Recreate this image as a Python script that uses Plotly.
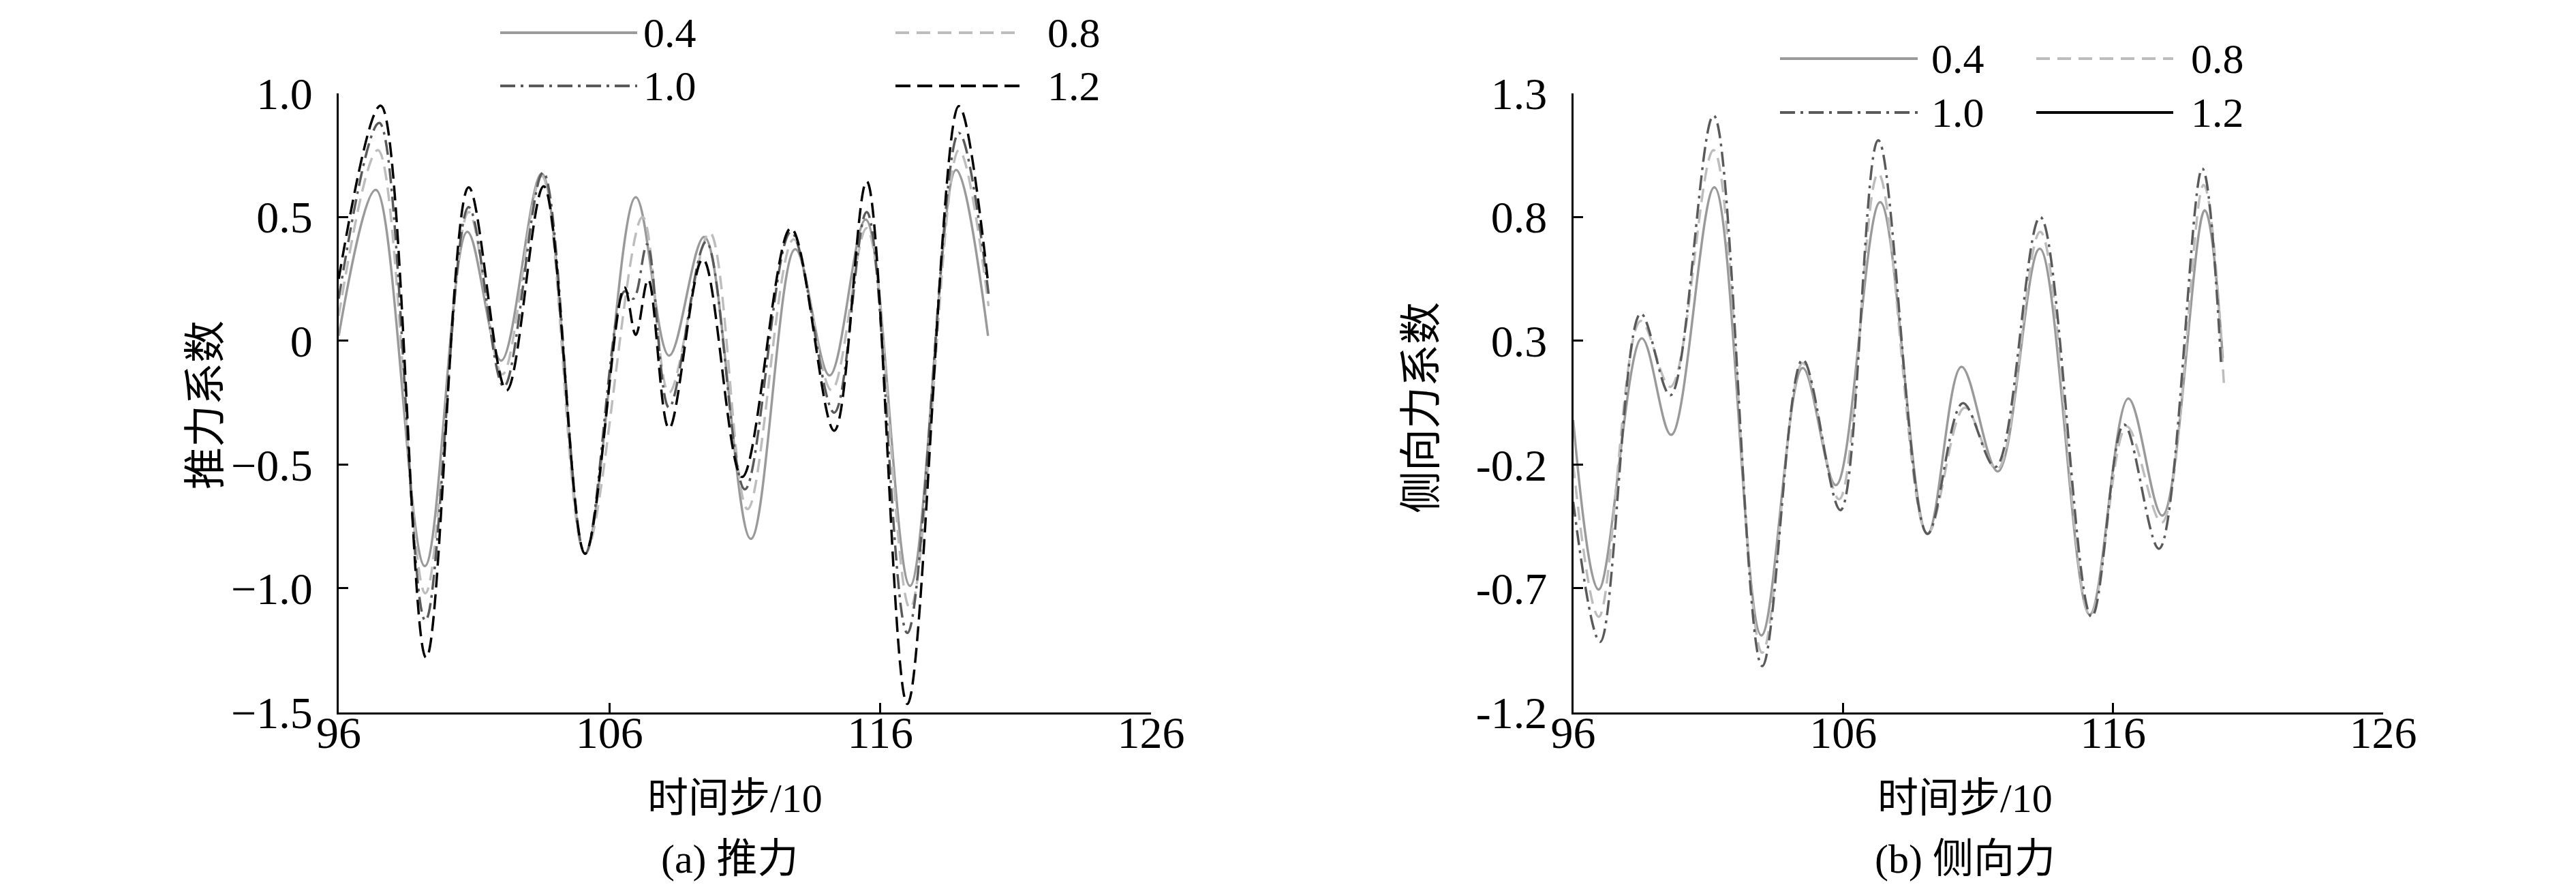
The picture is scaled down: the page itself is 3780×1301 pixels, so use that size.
import plotly.graph_objects as go
from plotly.subplots import make_subplots

W, H = 3780, 1301

labels = ["0.4", "0.8", "1.0", "1.2"]

# (a) 推力 -- thrust coefficient vs time step / 10
thrust_t_04 = [96.0, 97.37, 99.18, 100.75, 102.0, 103.5, 105.1, 106.97, 108.2, 109.5,
               111.22, 112.86, 114.13, 115.46, 117.1, 118.8, 119.98]
thrust_v_04 = [0.02, 0.61, -0.91, 0.44, -0.08, 0.675, -0.86, 0.58, -0.06, 0.42,
               -0.80, 0.37, -0.14, 0.49, -0.99, 0.69, 0.02]

thrust_t_08 = [96.0, 97.45, 99.2, 100.8, 102.05, 103.5, 105.1, 107.22, 108.2, 109.7,
               111.1, 112.8, 114.2, 115.5, 117.1, 118.9, 120.0]
thrust_v_08 = [0.10, 0.77, -1.02, 0.52, -0.135, 0.666, -0.86, 0.50, -0.21, 0.437,
               -0.68, 0.41, -0.20, 0.455, -1.08, 0.77, 0.14]

thrust_t_10 = [96.0, 97.5, 99.2, 100.8, 102.1, 103.55, 105.1, 106.55, 106.89, 107.39,
               108.2, 109.57, 111.0, 112.7, 114.3, 115.5, 117.0, 118.9, 120.0]
thrust_v_10 = [0.17, 0.88, -1.13, 0.54, -0.185, 0.68, -0.86, 0.20, 0.17, 0.39,
               -0.27, 0.40, -0.60, 0.44, -0.29, 0.52, -1.18, 0.84, 0.19]

thrust_t_12 = [96.0, 97.55, 99.23, 100.8, 102.2, 103.57, 105.1, 106.55, 106.97, 107.43,
               108.2, 109.45, 110.9, 112.7, 114.3, 115.5, 117.0, 118.9, 119.98]
thrust_v_12 = [0.25, 0.95, -1.28, 0.62, -0.20, 0.624, -0.86, 0.216, 0.024, 0.248,
               -0.354, 0.33, -0.55, 0.455, -0.363, 0.644, -1.467, 0.948, 0.236]

# (b) 侧向力 -- lateral force coefficient
side_t_04 = [96.0, 96.94, 98.54, 99.63, 101.23, 102.97, 104.5, 105.73, 107.37, 109.12,
             110.38, 111.73, 113.28, 115.13, 116.56, 117.82, 119.39, 120.06]
side_v_04 = [-0.02, -0.705, 0.31, -0.08, 0.92, -0.89, 0.19, -0.283, 0.86, -0.48,
             0.195, -0.228, 0.672, -0.806, 0.067, -0.406, 0.827, 0.23]

side_t_08 = [96.0, 96.95, 98.5, 99.6, 101.2, 103.0, 104.5, 105.85, 107.3, 109.12,
             110.5, 111.7, 113.3, 115.15, 116.5, 117.8, 119.35, 120.1]
side_v_08 = [-0.20, -0.815, 0.38, 0.114, 1.07, -0.96, 0.21, -0.34, 0.976, -0.48,
             0.03, -0.22, 0.74, -0.81, -0.046, -0.435, 0.93, 0.13]

side_t_10 = [96.0, 97.0, 98.5, 99.6, 101.2, 103.0, 104.5, 105.9, 107.3, 109.12,
             110.43, 111.64, 113.3, 115.2, 116.4, 117.7, 119.3, 120.0]
side_v_10 = [-0.35, -0.916, 0.41, 0.08, 1.21, -1.014, 0.224, -0.384, 1.11, -0.48,
             0.048, -0.21, 0.80, -0.815, -0.038, -0.54, 0.996, 0.20]

x_ticks = [96, 106, 116, 126]
thrust_ticks = [-1.5, -1.0, -0.5, 0, 0.5, 1.0]
thrust_ticktext = ["\u22121.5", "\u22121.0", "\u22120.5", "0", "0.5", "1.0"]
side_ticks = [-1.2, -0.7, -0.2, 0.3, 0.8, 1.3]
side_ticktext = ["-1.2", "-0.7", "-0.2", "0.3", "0.8", "1.3"]

SERIF = "Liberation Serif, Times New Roman, Noto Sans CJK SC"
CJK = "Liberation Serif, Noto Sans CJK SC"

style_a = {
    "0.4": dict(color="#9a9a9a", dash="solid"),
    "0.8": dict(color="#bdbdbd", dash="20px,11px"),
    "1.0": dict(color="#5a5a5a", dash="22px,8px,4px,8px"),
    "1.2": dict(color="#000000", dash="22px,10px"),
}
style_b = dict(style_a)
style_b["1.2"] = dict(color="#000000", dash="solid")

fig = make_subplots(rows=1, cols=2)

thrust = [(thrust_t_04, thrust_v_04), (thrust_t_08, thrust_v_08),
          (thrust_t_10, thrust_v_10), (thrust_t_12, thrust_v_12)]
side = [(side_t_04, side_v_04), (side_t_08, side_v_08), (side_t_10, side_v_10)]

for lab, (t, v) in zip(labels, thrust):
    fig.add_trace(go.Scatter(x=t, y=v, mode="lines", name=lab, line_shape="spline",
                             line=dict(width=3.5, **style_a[lab])), row=1, col=1)
for lab, (t, v) in zip(labels, side):
    fig.add_trace(go.Scatter(x=t, y=v, mode="lines", name=lab, line_shape="spline",
                             line=dict(width=3.5, **style_b[lab])), row=1, col=2)

axis_common = dict(showline=True, linecolor="black", linewidth=3, showgrid=False,
                   zeroline=False, ticks="inside", ticklen=14, tickwidth=3, automargin=False,
                   tickcolor="black", tickfont=dict(family=SERIF, size=66, color="black"))

fig.update_xaxes(range=[96, 126], tickvals=x_ticks, ticklabelstandoff=-30, **axis_common)
fig.update_xaxes(domain=[489 / W, 1681 / W], row=1, col=1)
fig.update_xaxes(domain=[2300.5 / W, 3489 / W], row=1, col=2)
ydom = [1 - 1036.5 / H, 1 - 128.8 / H]
fig.update_yaxes(domain=ydom, range=[-1.5, 1.0], tickvals=thrust_ticks,
                 ticktext=thrust_ticktext, ticklabelstandoff=22, row=1, col=1, **axis_common)
fig.update_yaxes(domain=ydom, range=[-1.2, 1.3], tickvals=side_ticks,
                 ticktext=side_ticktext, ticklabelstandoff=22, row=1, col=2, **axis_common)


def px(x, y):
    return x / W, 1 - y / H


annotations = []


def text(x, y, s, size, anchor="center", angle=0):
    xp, yp = px(x, y)
    annotations.append(dict(x=xp, y=yp, xref="paper", yref="paper", text=s, showarrow=False,
                            xanchor=anchor, yanchor="middle", textangle=angle,
                            font=dict(family=CJK, size=size, color="black")))


# axis titles and captions
text(1070, 1163, "时间步/10", 60)
text(1063, 1252, "(a) 推力", 60)
text(294, 586, "推力系数", 62, angle=-90)
text(2875, 1163, "时间步/10", 60)
text(2875, 1252, "(b) 侧向力", 60)
text(2078, 590, "侧向力系数", 62, angle=-90)

# hand-drawn legends (long line samples like the original)
shapes = []
legend_a = [(726, 927, 40, 934), (1306, 1491, 40, 1527), (726, 927, 118, 934), (1306, 1491, 118, 1527)]
legend_b = [(2604, 2806, 78, 2824), (2980, 3181, 78, 3205), (2604, 2806, 157, 2824), (2980, 3181, 157, 3205)]
for styles, pos in ((style_a, legend_a), (style_b, legend_b)):
    for lab, (x0, x1, y, xt) in zip(labels, pos):
        a0, b0 = px(x0, y)
        a1, _ = px(x1, y)
        shapes.append(dict(type="line", xref="paper", yref="paper", x0=a0, x1=a1, y0=b0, y1=b0,
                           line=dict(width=4, **styles[lab])))
        text(xt, y, lab, 62, anchor="left")

fig.update_layout(width=W, height=H, margin=dict(l=0, r=0, t=0, b=0, autoexpand=False),
                  paper_bgcolor="white", plot_bgcolor="white", showlegend=False,
                  annotations=annotations, shapes=shapes)

fig.write_html("out.html")
